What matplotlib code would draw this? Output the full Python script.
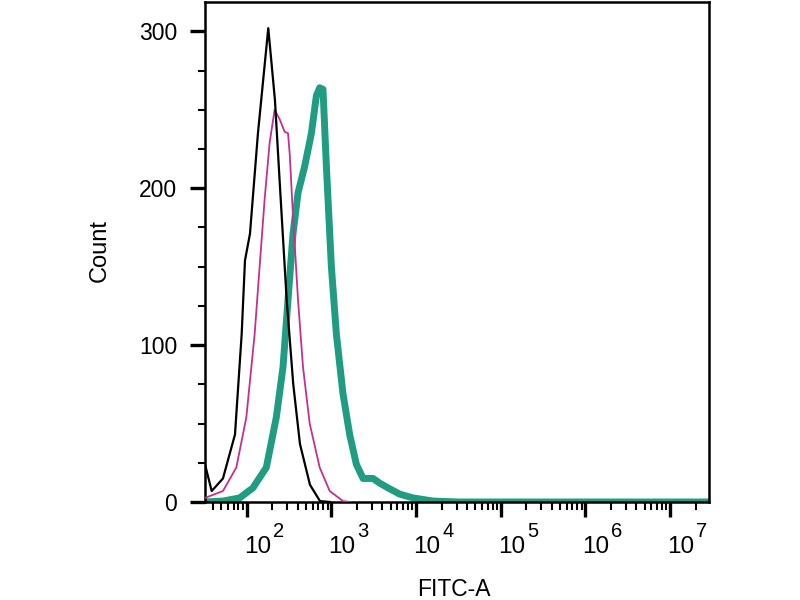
import numpy as np
import matplotlib
matplotlib.use("Agg")
import matplotlib.pyplot as plt
from matplotlib.transforms import offset_copy
from matplotlib.ticker import FixedLocator, NullFormatter

plt.rcParams['font.family'] = ['Liberation Sans', 'DejaVu Sans']

# ---- data (x in log10 FITC-A units, y in counts) ----
black_logx = [1.45, 1.508, 1.587, 1.72, 1.862, 1.941, 1.98, 2.039, 2.133, 2.255,
              2.334, 2.393, 2.472, 2.55, 2.629, 2.747, 2.865, 2.983]
black_cnt = [40, 24, 7, 15, 43, 107, 154, 171, 235, 302,
             256, 201, 129, 75, 37, 11, 0.6, 0]

magenta_logx = [1.508, 1.72, 1.878, 1.996, 2.094, 2.153, 2.212, 2.271, 2.33, 2.389,
                2.448, 2.488, 2.508, 2.547, 2.606, 2.665, 2.744, 2.862, 2.98, 3.137, 3.22]
magenta_cnt = [2.6, 7, 22, 54, 107, 150, 193, 229, 250, 244,
               236, 235, 222, 182, 129, 86, 50, 22, 7, 0.6, 0]

teal_logx = [1.508, 1.72, 1.917, 2.074, 2.232, 2.35, 2.429, 2.488, 2.547, 2.606,
             2.685, 2.764, 2.823, 2.862, 2.901, 2.941, 3.0, 3.059, 3.137, 3.216,
             3.295, 3.374, 3.492, 3.571, 3.669, 3.807, 3.964, 4.2, 4.5, 7.46]
teal_cnt = [0, 0.6, 2.6, 9, 22, 54, 86, 129, 171, 197,
            214, 235, 259, 264, 263, 214, 150, 107, 69, 43,
            24, 15, 15, 12, 9, 5, 2.6, 0.6, 0, 0]

decades = [2, 3, 4, 5, 6, 7]
y_major = [0, 100, 200, 300]

fig = plt.figure(figsize=(8, 6), dpi=100)
ax = fig.add_axes([205/800, 1 - 502/600, 504/800, 500.5/600])

ax.plot(10**np.array(teal_logx), teal_cnt, color='#1f9c82', lw=5.0,
        solid_joinstyle='round', solid_capstyle='round', zorder=2)
ax.plot(10**np.array(magenta_logx), magenta_cnt, color='#c42f91', lw=1.3, zorder=3)
ax.plot(10**np.array(black_logx), black_cnt, color='black', lw=1.6, zorder=4)

ax.set_xscale('log')
ax.set_xlim(10**1.508, 10**7.458)
ax.set_ylim(0, 319)

# x ticks
ax.xaxis.set_major_locator(FixedLocator([10.0**d for d in decades]))
minors = [m * 10.0**d for d in range(1, 8) for m in range(2, 10)]
ax.xaxis.set_minor_locator(FixedLocator(minors))
ax.xaxis.set_major_formatter(NullFormatter())
ax.xaxis.set_minor_formatter(NullFormatter())
ax.tick_params(axis='x', which='major', direction='out', length=11, width=2.4, color='black')
ax.tick_params(axis='x', which='minor', direction='out', length=6, width=1.5, color='black')

# y ticks
ax.set_yticks(y_major)
ax.set_yticklabels([str(v) for v in y_major])
ax.yaxis.set_minor_locator(FixedLocator(np.arange(0, 320, 25)))
ax.tick_params(axis='y', which='major', direction='out', length=11, width=2.4,
               labelsize=16.5, pad=9)
ax.tick_params(axis='y', which='minor', direction='out', length=5, width=1.5)

for s in ax.spines.values():
    s.set_linewidth(1.8)

# decade labels 10^n, left aligned at tick
xt = ax.get_xaxis_transform()
for d in decades:
    t1 = offset_copy(xt, fig=fig, x=-3, y=-51, units='dots')
    ax.text(10.0**d, 0, '10', transform=t1, ha='left', va='baseline',
            fontsize=17.5, clip_on=False)
    t2 = offset_copy(xt, fig=fig, x=26, y=-35, units='dots')
    ax.text(10.0**d, 0, str(d), transform=t2, ha='left', va='baseline',
            fontsize=14.5, clip_on=False)

fig.text(454/800, 1 - 590/600, 'FITC-A', ha='center', va='center', fontsize=16.5)
fig.text(100/800, 1 - 250/600, 'Count', ha='center', va='center', fontsize=17,
         rotation=90)

fig.savefig('out.png', dpi=100)
